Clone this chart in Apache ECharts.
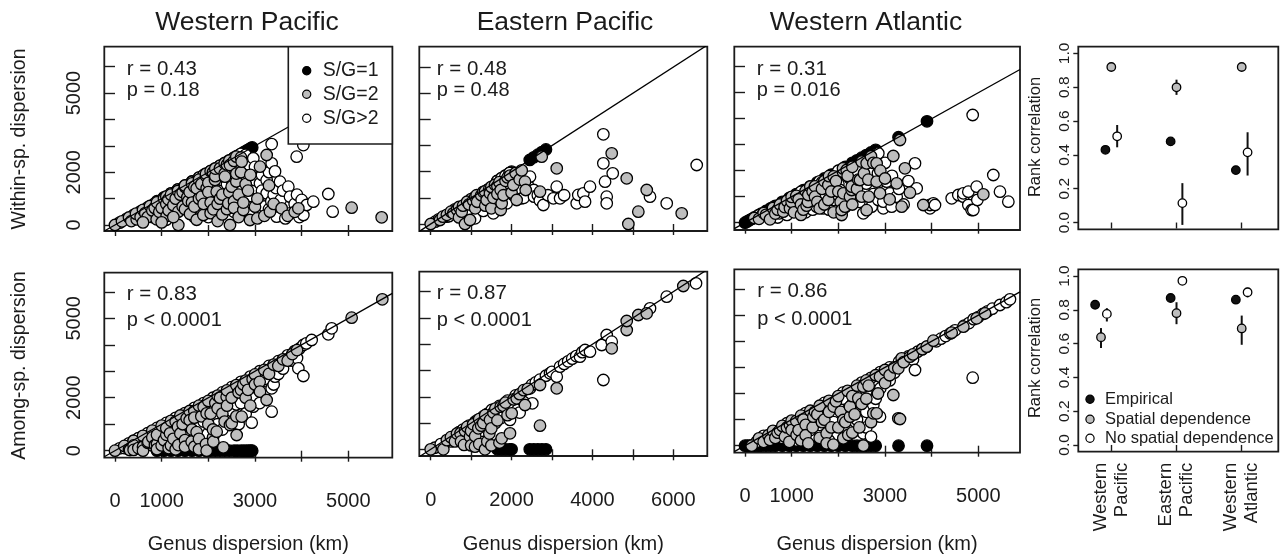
<!DOCTYPE html>
<html>
<head>
<meta charset="utf-8">
<script src="https://cdn.jsdelivr.net/npm/echarts@6/dist/echarts.min.js"></script>
<style>
html,body{margin:0;padding:0;background:#fff}
#chart{width:1287px;height:556px}
</style>
</head>
<body>
<div id="chart"></div>
<script>
// ---------- Regions ----------
const regionTitles = ['Western Pacific', 'Eastern Pacific', 'Western Atlantic'];
const rankCategories = ['Western\nPacific', 'Eastern\nPacific', 'Western\nAtlantic'];

// ---------- Axis ticks and labels ----------
const ticksKm5 = [0, 1000, 2000, 3000, 4000, 5000];
const ticksKm6 = [0, 1000, 2000, 3000, 4000, 5000, 6000];
const labelsKmOdd = [0, 1000, 3000, 5000];
const labelsKmEven = [0, 2000, 4000, 6000];
const labelsDispersion = [0, 2000, 5000];
const ticksRank = [0, 0.2, 0.4, 0.6, 0.8, 1.0];
const ticksRegion = [1, 2, 3];

// ---------- Western Pacific: [genus dispersion, within-species dispersion] ----------
const wpWithinSG1 = [[900,900],[1050,1050],[1200,1200],[1350,1350],[1500,1500],[1650,1650],[1800,1800],[1950,1950],[2050,2050],[2150,2150],[2250,2250],[2350,2350],[2450,2450],[2550,2550],[2620,2620],[2700,2700],[2760,2760],[2820,2820],[2870,2870],[2910,2910],[2940,2940]];
const wpWithinSG2 = [[0,0],[150,140],[300,285],[350,150],[465,215],[450,430],[550,300],[600,570],[650,450],[700,300],[750,720],[800,550],[850,650],[893,215],[900,860],[950,500],[1000,650],[1050,1000],[1100,800],[1100,1080],[1107,341],[1143,973],[1150,550],[1200,1150],[1250,750],[1300,1000],[1350,1290],[1357,505],[1357,0],[1400,1150],[1450,700],[1450,1250],[1500,1440],[1500,1490],[1500,600],[1550,1050],[1571,910],[1600,1250],[1607,417],[1650,1580],[1650,850],[1700,700],[1700,1450],[1750,1390],[1750,200],[1800,1720],[1800,1000],[1850,1550],[1857,1074],[1893,379],[1900,800],[1950,1860],[1950,1940],[1964,1390],[2000,1600],[2000,1250],[2050,850],[2050,450],[2050,2040],[2100,2000],[2107,594],[2143,1706],[2150,1850],[2150,2140],[2179,1264],[2200,150],[2200,800],[2250,2150],[2250,1000],[2300,400],[2300,1150],[2350,1950],[2350,2340],[2357,1832],[2400,2290],[2400,600],[2428,821],[2450,1250],[2450,2440],[2464,2274],[2464,0],[2500,1453],[2550,2430],[2550,900],[2550,650],[2600,1650],[2600,1950],[2600,2590],[2650,300],[2650,1150],[2700,2560],[2700,2000],[2714,2400],[2750,569],[2750,850],[2800,1550],[2850,1300],[2893,190],[2900,1900],[3000,695],[3050,1000],[3050,250],[3107,2211],[3200,350],[3250,2654],[3300,1500],[3321,505],[3400,800],[3571,632],[3700,350],[3850,500],[3929,632],[5071,657],[5714,291],[1000,100],[600,100],[1250,300]];
const wpWithinSG3 = [[100,90],[250,235],[400,380],[500,250],[550,520],[700,665],[800,300],[850,810],[900,400],[1000,950],[1000,300],[1100,200],[1150,1100],[1200,550],[1200,1190],[1300,1240],[1300,500],[1350,1345],[1400,950],[1450,1380],[1500,850],[1600,1520],[1600,650],[1650,1640],[1700,1050],[1700,300],[1750,1670],[1800,1300],[1800,1795],[1850,600],[1900,1810],[1900,1895],[2000,1150],[2000,300],[2050,1950],[2100,1000],[2150,1550],[2200,2100],[2250,1300],[2250,550],[2250,2245],[2300,1700],[2350,2240],[2350,700],[2400,1550],[2400,950],[2500,2380],[2500,1700],[2550,1950],[2550,500],[2550,2545],[2607,1011],[2650,2520],[2650,1600],[2679,1895],[2700,1300],[2700,2695],[2750,1700],[2800,2660],[2800,800],[2821,1074],[2850,2300],[2900,1100],[2950,500],[2964,2527],[3000,2200],[3000,1400],[3000,1700],[3100,800],[3107,1579],[3107,442],[3150,1900],[3150,1300],[3200,700],[3250,1200],[3250,1700],[3300,2000],[3300,600],[3350,900],[3357,3068],[3357,2338],[3400,1150],[3429,2033],[3450,1400],[3464,316],[3500,700],[3536,1643],[3550,950],[3600,1300],[3650,250],[3714,1453],[3750,1074],[3750,442],[3850,800],[3893,2590],[3900,1150],[3950,300],[4000,950],[4036,3030],[4036,379],[4107,758],[4250,884],[4571,1175],[4664,505]];

// ---------- Western Pacific: [genus dispersion, among-species dispersion] ----------
const wpAmongSG1 = [[900,0],[1050,0],[1200,0],[1350,0],[1500,0],[1650,0],[1800,0],[1950,0],[2050,0],[2150,0],[2250,0],[2350,0],[2450,0],[2550,0],[2620,0],[2700,0],[2760,0],[2820,0],[2870,0],[2910,0],[2940,0]];
const wpAmongSG2 = [[0,0],[200,180],[300,50],[321,26],[400,370],[400,200],[400,30],[500,100],[600,560],[600,150],[600,0],[700,300],[714,340],[800,760],[800,500],[857,214],[900,250],[900,600],[900,60],[1000,950],[1000,200],[1050,400],[1100,600],[1100,850],[1150,100],[1179,657],[1200,1130],[1200,200],[1250,450],[1300,1100],[1300,50],[1350,900],[1357,214],[1400,1330],[1400,650],[1450,1000],[1500,400],[1500,150],[1536,1223],[1600,1500],[1600,1150],[1643,340],[1650,800],[1700,1500],[1700,1250],[1700,150],[1750,700],[1800,1700],[1800,450],[1800,50],[1850,1300],[1900,1650],[1950,250],[1964,0],[1964,1412],[2000,1880],[2000,1000],[2050,1400],[2100,500],[2100,800],[2107,340],[2150,1800],[2179,718],[2200,2080],[2200,1600],[2250,2000],[2300,1400],[2321,128],[2350,1100],[2393,2039],[2400,2280],[2400,1700],[2464,970],[2500,1035],[2500,2000],[2600,2480],[2600,1300],[2607,593],[2650,2200],[2700,2300],[2714,1284],[2750,2500],[2800,2650],[2800,2000],[2850,2300],[2900,1700],[2950,2700],[3000,2880],[3000,2500],[3100,2600],[3107,2228],[3200,3050],[3250,1915],[3300,2900],[3400,3250],[3500,3200],[3600,3450],[3700,3400],[3800,3650],[3900,3800],[5071,5023],[5728,5717]];
const wpAmongSG3 = [[100,90],[200,100],[300,280],[400,380],[500,470],[600,450],[700,660],[700,400],[800,200],[900,860],[1000,700],[1000,500],[1100,1050],[1200,950],[1300,1240],[1300,800],[1400,1100],[1500,1420],[1500,700],[1600,900],[1700,1620],[1800,900],[1900,1800],[1900,1100],[2000,1600],[2100,2000],[2150,1300],[2200,1000],[2300,2200],[2300,800],[2400,1900],[2450,1400],[2500,2400],[2500,1500],[2600,1750],[2650,1000],[2700,2600],[2700,1800],[2800,2050],[2800,1400],[2900,2800],[2900,2400],[2929,1057],[2964,1662],[3000,2000],[3050,2350],[3100,3000],[3100,1800],[3200,2700],[3200,2200],[3300,3200],[3300,3000],[3357,2356],[3357,1473],[3400,2500],[3429,2795],[3500,3380],[3500,2900],[3600,3100],[3700,3600],[3800,3400],[3850,3760],[3900,3500],[3929,3111],[3950,3850],[4036,3991],[4036,2821],[4100,4050],[4214,4180],[4571,4396],[4643,4622]];

// ---------- Eastern Pacific: within-species ----------
const epWithinSG1 = [[1650,1650],[1750,1750],[1850,1850],[1950,1950],[2000,2000],[2450,2450],[2550,2550],[2650,2650],[2750,2750],[2850,2850]];
const epWithinSG2 = [[0,0],[230,153],[300,280],[400,350],[500,470],[560,408],[650,550],[700,650],[700,250],[767,470],[800,700],[848,0],[900,850],[950,750],[972,153],[1050,900],[1100,1040],[1100,600],[1137,1100],[1150,850],[1250,1100],[1300,1230],[1343,1250],[1350,700],[1384,918],[1450,1350],[1467,1173],[1500,1420],[1500,600],[1550,1000],[1590,1500],[1650,1450],[1650,1150],[1700,1600],[1731,1300],[1731,535],[1756,791],[1800,1100],[1850,1650],[1900,1780],[1961,1850],[2000,1200],[2044,1491],[2100,1950],[2126,918],[2200,1700],[2250,2050],[2332,1618],[2350,1300],[2703,1235],[2745,2574],[3117,2130],[4477,2704],[4848,1747],[4888,0],[5135,470],[5343,1300],[6208,408]];
const epWithinSG3 = [[112,89],[200,180],[396,279],[450,300],[600,560],[750,600],[850,500],[890,800],[1000,950],[1000,400],[1050,700],[1096,217],[1200,1100],[1250,800],[1300,500],[1400,1300],[1450,1000],[1549,408],[1600,1450],[1600,1200],[1650,1645],[1750,1550],[1750,1745],[1800,900],[1850,1845],[1880,790],[1950,1450],[1950,1945],[2050,1100],[2150,1350],[2200,1900],[2251,981],[2300,1000],[2400,1500],[2456,1810],[2550,1300],[2555,1044],[2650,1100],[2700,900],[2786,727],[2900,1100],[3035,981],[3117,1427],[3200,981],[3300,1100],[3611,790],[3650,1110],[3775,1173],[3817,855],[3940,1427],[4270,3430],[4270,2321],[4312,1618],[4353,1044],[4353,790],[4502,1939],[5424,1044],[5837,790],[6579,2256]];

// ---------- Eastern Pacific: among-species ----------
const epAmongSG1 = [[1650,0],[1750,0],[1850,0],[1950,0],[2000,0],[2450,0],[2550,0],[2650,0],[2750,0],[2850,0]];
const epAmongSG2 = [[0,0],[312,0],[400,350],[500,460],[600,300],[650,600],[737,609],[750,300],[824,165],[850,700],[900,850],[972,482],[1000,700],[1000,150],[1050,950],[1096,100],[1100,500],[1178,799],[1200,1150],[1200,200],[1250,900],[1300,1000],[1343,0],[1350,1300],[1400,300],[1450,600],[1467,1117],[1500,800],[1500,150],[1550,1400],[1600,1550],[1650,1100],[1700,250],[1731,1622],[1756,419],[1800,1650],[1850,1780],[1900,1300],[1961,609],[2003,1370],[2050,1900],[2127,1941],[2200,2100],[2300,2250],[2332,1686],[2400,2300],[2703,2448],[2703,898],[3117,2322],[4477,3845],[4848,4541],[4848,4884],[5135,5112],[5342,5177],[6248,6216]];
const epAmongSG3 = [[100,60],[250,200],[500,300],[560,355],[700,650],[800,750],[950,900],[950,600],[1100,1050],[1150,1100],[1250,700],[1300,1250],[1400,1350],[1508,1496],[1600,1000],[1700,1650],[1750,1200],[1900,1850],[1961,1117],[2000,1700],[2100,2050],[2150,1500],[2200,1400],[2300,1800],[2456,2322],[2500,2450],[2514,1751],[2600,2550],[2700,2650],[2850,2800],[2951,2893],[3000,2950],[3117,2764],[3198,3144],[3300,3250],[3400,3350],[3500,3450],[3600,3550],[3693,3525],[3750,3700],[3817,3780],[3940,3715],[4230,3970],[4270,2638],[4353,4351],[4477,4096],[5424,5367],[5837,5809],[6562,6319]];

// ---------- Western Atlantic: within-species ----------
const waWithinSG1 = [[0,0],[50,50],[100,100],[150,150],[200,200],[280,280],[350,350],[450,450],[550,550],[650,650],[800,800],[950,950],[1100,1100],[1250,1250],[1400,1400],[1550,1550],[1700,1700],[1850,1850],[2000,2000],[2150,2150],[2300,2300],[2400,2400],[2500,2500],[2600,2600],[2700,2700],[2800,2800],[3290,3290],[3900,3900]];
const waWithinSG2 = [[200,180],[300,150],[400,370],[450,300],[536,131],[600,560],[650,350],[700,500],[750,700],[821,423],[850,600],[900,840],[964,554],[1000,800],[1000,990],[1050,400],[1100,1030],[1150,900],[1200,700],[1200,300],[1250,500],[1300,1220],[1321,654],[1350,800],[1357,1065],[1400,1390],[1450,1200],[1500,1400],[1500,1000],[1550,800],[1600,550],[1650,1300],[1700,1600],[1700,700],[1786,873],[1786,1450],[1800,1790],[1850,1200],[1900,1780],[1900,400],[1950,1600],[2000,1200],[2050,800],[2071,296],[2071,488],[2100,1950],[2100,2090],[2107,1131],[2143,615],[2179,2027],[2200,1800],[2250,1000],[2286,1258],[2286,1385],[2300,2150],[2300,700],[2400,1300],[2428,1654],[2464,1642],[2500,2350],[2500,1000],[2550,1900],[2607,2285],[2607,480],[2643,1654],[2650,1000],[2700,2550],[2750,2300],[2821,1577],[2821,2285],[2893,1131],[2900,2000],[3000,1700],[3100,900],[3178,2565],[3250,1515],[3321,3181],[3357,615],[3428,2092],[3535,1154],[3821,681],[5107,1092]];
const waWithinSG3 = [[300,280],[350,250],[500,423],[550,450],[600,590],[700,200],[736,361],[800,760],[900,300],[1000,950],[1050,700],[1100,500],[1200,1000],[1200,1190],[1286,746],[1300,400],[1400,1330],[1450,500],[1536,615],[1600,1000],[1600,1590],[1650,1550],[1678,554],[1700,1100],[1800,1700],[1800,500],[1893,873],[1950,1100],[2000,1500],[2000,1990],[2036,1258],[2150,600],[2200,2080],[2200,900],[2250,1700],[2350,1100],[2400,2000],[2450,800],[2536,361],[2600,1500],[2700,2000],[2714,615],[2750,1100],[2850,1900],[2857,873],[2857,2669],[2964,554],[2964,808],[3000,2300],[3036,1258],[3036,1577],[3107,1131],[3143,615],[3150,1800],[3250,1000],[3300,1300],[3400,700],[3500,1600],[3643,2285],[3679,1323],[3964,554],[3964,681],[4036,746],[4071,681],[4429,938],[4571,1065],[4679,1000],[4679,1131],[4786,681],[4786,1192],[4857,488],[4879,4142],[4893,488],[4964,1385],[4979,873],[5321,1835],[5464,1192],[5643,808]];

// ---------- Western Atlantic: among-species ----------
const waAmongSG1 = [[0,0],[50,0],[100,0],[150,0],[200,0],[280,0],[350,0],[450,0],[550,0],[650,0],[800,0],[950,0],[1100,0],[1250,0],[1400,0],[1550,0],[1700,0],[1850,0],[2000,0],[2150,0],[2300,0],[2400,0],[2500,0],[2600,0],[2700,0],[2800,0],[3290,0],[3900,0]];
const waAmongSG2 = [[143,0],[300,280],[400,150],[500,400],[536,218],[600,570],[650,300],[700,500],[750,600],[800,760],[857,345],[900,700],[950,150],[964,793],[1000,960],[1000,600],[1100,950],[1107,410],[1150,600],[1200,1150],[1200,200],[1250,1000],[1300,800],[1300,400],[1357,92],[1400,1340],[1450,700],[1464,1111],[1500,1300],[1550,1200],[1600,1530],[1600,300],[1650,900],[1700,1000],[1750,475],[1750,92],[1800,1720],[1800,1300],[1850,700],[1893,45],[1900,1500],[1950,1700],[2000,1900],[2000,700],[2050,1300],[2107,283],[2107,985],[2150,900],[2200,2100],[2214,410],[2250,1111],[2250,1494],[2300,500],[2300,1900],[2350,1200],[2400,2300],[2428,1816],[2450,700],[2500,1600],[2536,2261],[2536,0],[2600,2500],[2600,1800],[2650,2300],[2700,900],[2750,1241],[2800,2700],[2821,1241],[2850,2000],[2893,2644],[3000,2900],[3000,2400],[3100,2700],[3178,1943],[3200,3000],[3285,1050],[3286,2965],[3321,1023],[3357,3349],[3400,3200],[3536,3410],[3600,3500],[3800,3700],[3893,3793],[4036,4023],[4429,4330],[4679,4559],[4964,4881],[5143,5073]];
const waAmongSG3 = [[250,150],[400,380],[600,450],[800,300],[900,860],[1000,850],[1100,200],[1300,1250],[1300,1100],[1400,600],[1500,1000],[1600,800],[1700,1640],[1700,1400],[1800,200],[1900,1200],[1900,900],[2000,1600],[2100,2030],[2100,1800],[2200,600],[2200,1300],[2300,1600],[2400,1000],[2450,2000],[2500,2420],[2500,536],[2536,475],[2600,1300],[2600,700],[2600,2100],[2700,2600],[2700,350],[2750,1560],[2800,1800],[2893,1113],[2900,2820],[2900,2200],[3000,2700],[3100,3000],[3100,2500],[3200,2800],[3300,3220],[3400,3300],[3500,3420],[3600,3300],[3643,2900],[3700,3600],[3800,3700],[3900,3800],[4100,4000],[4200,4100],[4300,4200],[4400,4300],[4500,4420],[4700,4600],[4800,4700],[4879,2605],[4900,4850],[5000,4930],[5100,5050],[5200,5150],[5300,5250],[5464,5391],[5600,5500],[5678,5609]];

// ---------- Rank correlations (within-species panel) ----------
const withinEmpirical = [0.43, 0.48, 0.31];
const withinSpatial = [0.92, 0.80, 0.92];
const withinSpatialLo = [0.91, 0.755, 0.91];
const withinSpatialHi = [0.93, 0.845, 0.93];
const withinNoSpatial = [0.51, 0.115, 0.415];
const withinNoSpatialLo = [0.445, -0.014, 0.278];
const withinNoSpatialHi = [0.577, 0.233, 0.534];

// ---------- Rank correlations (among-species panel) ----------
const amongEmpirical = [0.83, 0.87, 0.86];
const amongSpatial = [0.638, 0.78, 0.69];
const amongSpatialLo = [0.574, 0.715, 0.593];
const amongSpatialHi = [0.692, 0.845, 0.766];
const amongNoSpatial = [0.776, 0.972, 0.904];
const amongNoSpatialLo = [0.731, 0.962, 0.874];
const amongNoSpatialHi = [0.81, 0.982, 0.931];

// ---------- Correlation annotations ----------
const withinStats = [['r = 0.43', 'p = 0.18'], ['r = 0.48', 'p = 0.48'], ['r = 0.31', 'p = 0.016']];
const amongStats = [['r = 0.83', 'p < 0.0001'], ['r = 0.87', 'p < 0.0001'], ['r = 0.86', 'p < 0.0001']];

// ---------- Styling ----------
const FONT = '"Liberation Sans", Arial, Helvetica, sans-serif';
const INK = '#1b1b1b';
const GREY = '#bebebe';
const PT = 11.5;     // scatter symbol size
const RANK_PT = 8.5; // rank-panel symbol size

// ---------- Layout of the eight panels ----------
const scatterPanels = [
  { grid: {left: 104.3, top: 46.7, width: 288, height: 184.3}, x: [-229, 5942], y: [-227, 6759], xt: ticksKm5, xl: null, yl: labelsDispersion,
    sets: [wpWithinSG1, wpWithinSG3, wpWithinSG2], stats: withinStats[0], statPos: [126.7, 69, 90.7] },
  { grid: {left: 419.3, top: 46.7, width: 288, height: 184.3}, x: [-282, 6841], y: [-268, 6780], xt: ticksKm6, xl: null, yl: null,
    sets: [epWithinSG1, epWithinSG3, epWithinSG2], stats: withinStats[1], statPos: [436.7, 69, 90.7] },
  { grid: {left: 734.3, top: 46.7, width: 285.7, height: 183.3}, x: [-229, 5893], y: [-281, 6769], xt: ticksKm5, xl: null, yl: null,
    sets: [waWithinSG1, waWithinSG3, waWithinSG2], stats: withinStats[2], statPos: [756.7, 69, 90.7] },
  { grid: {left: 104.3, top: 272.7, width: 288, height: 185}, x: [-229, 5942], y: [-264, 6722], xt: ticksKm5, xl: labelsKmOdd, yl: labelsDispersion,
    sets: [wpAmongSG1, wpAmongSG3, wpAmongSG2], stats: amongStats[0], statPos: [126.7, 294.7, 320] },
  { grid: {left: 419.3, top: 271.7, width: 288, height: 184.3}, x: [-282, 6841], y: [-255, 6761], xt: ticksKm6, xl: labelsKmEven, yl: null,
    sets: [epAmongSG1, epAmongSG3, epAmongSG2], stats: amongStats[1], statPos: [436.7, 293.3, 320] },
  { grid: {left: 734.3, top: 269.3, width: 285.7, height: 183.4}, x: [-229, 5893], y: [-268, 6759], xt: ticksKm5, xl: labelsKmOdd, yl: null,
    sets: [waAmongSG1, waAmongSG3, waAmongSG2], stats: amongStats[2], statPos: [757.3, 291.7, 319] }
];
const rankPanels = [
  { grid: {left: 1078.3, top: 46.7, width: 200, height: 182.6}, centers: [1, 2, 3], showCats: false,
    emp: withinEmpirical, sp: withinSpatial, spLo: withinSpatialLo, spHi: withinSpatialHi,
    ns: withinNoSpatial, nsLo: withinNoSpatialLo, nsHi: withinNoSpatialHi },
  { grid: {left: 1078.3, top: 269.3, width: 200, height: 182.4}, centers: [0.842, 2, 3], showCats: true,
    emp: amongEmpirical, sp: amongSpatial, spLo: amongSpatialLo, spHi: amongSpatialHi,
    ns: amongNoSpatial, nsLo: amongNoSpatialLo, nsHi: amongNoSpatialHi }
];
const DODGE = 0.09;

const grids = [], xAxes = [], yAxes = [], series = [];
const tickStyle = {color: INK, width: 1.4};

scatterPanels.forEach((p, i) => {
  grids.push(Object.assign({show: true, borderColor: INK, borderWidth: 1.8, backgroundColor: 'transparent'}, p.grid));
  xAxes.push({
    type: 'value', gridIndex: i, min: p.x[0], max: p.x[1], position: 'bottom', offset: 1,
    axisLine: {show: false}, splitLine: {show: false},
    axisTick: {show: true, customValues: p.xt, length: 11, lineStyle: tickStyle},
    axisLabel: {show: !!p.xl, customValues: p.xl || [], margin: 33, fontSize: 20, color: INK, fontFamily: FONT,
      formatter: v => String(v)}
  });
  yAxes.push({
    type: 'value', gridIndex: i, min: p.y[0], max: p.y[1], position: 'left', offset: 1,
    axisLine: {show: false}, splitLine: {show: false},
    axisTick: {show: true, customValues: ticksKm6, length: 11, lineStyle: tickStyle},
    axisLabel: {show: !!p.yl, customValues: p.yl || [], rotate: 90, margin: 19, fontSize: 20, color: INK, fontFamily: FONT,
      formatter: v => String(v)}
  });
  const fills = ['#000000', '#ffffff', GREY];
  p.sets.forEach((d, k) => {
    series.push({
      type: 'scatter', xAxisIndex: i, yAxisIndex: i, data: d, symbol: 'circle', symbolSize: PT, silent: true,
      itemStyle: {color: fills[k], borderColor: '#000', borderWidth: 1.3, opacity: 1}, z: 2 + k
    });
  });
  // 1:1 reference line across the panel
  series.push({
    type: 'line', xAxisIndex: i, yAxisIndex: i, symbol: 'none', silent: true, clip: true, z: 8,
    data: [[p.x[0], p.x[0]], [p.x[1], p.x[1]]],
    lineStyle: {color: '#000', width: 1.3}
  });
});

rankPanels.forEach((p, j) => {
  const i = scatterPanels.length + j;
  grids.push(Object.assign({show: true, borderColor: INK, borderWidth: 1.8, backgroundColor: 'transparent'}, p.grid));
  xAxes.push({
    type: 'value', gridIndex: i, min: 0.494, max: 3.561, position: 'bottom',
    axisLine: {show: false}, splitLine: {show: false},
    axisTick: {show: true, customValues: ticksRegion, length: 6, lineStyle: tickStyle},
    axisLabel: {show: p.showCats, customValues: ticksRegion, rotate: 90, margin: 11, fontSize: 18.5, lineHeight: 21,
      color: INK, fontFamily: FONT, formatter: v => rankCategories[Math.round(v) - 1] || ''}
  });
  yAxes.push({
    type: 'value', gridIndex: i, min: -0.04, max: 1.04, position: 'left',
    axisLine: {show: false}, splitLine: {show: false},
    axisTick: {show: true, customValues: ticksRank, length: 5, lineStyle: tickStyle},
    axisLabel: {show: true, customValues: ticksRank, rotate: 90, margin: 6, fontSize: 15.5, color: INK, fontFamily: FONT,
      formatter: v => v.toFixed(1)}
  });
  const errRows = [];
  p.centers.forEach((c, g) => {
    errRows.push([c, p.spLo[g], p.spHi[g]]);
    errRows.push([c + DODGE, p.nsLo[g], p.nsHi[g]]);
  });
  series.push({
    type: 'custom', xAxisIndex: i, yAxisIndex: i, silent: true, z: 2, data: errRows,
    renderItem: (params, api) => {
      const a = api.coord([api.value(0), api.value(1)]);
      const b = api.coord([api.value(0), api.value(2)]);
      return {type: 'line', shape: {x1: a[0], y1: a[1], x2: b[0], y2: b[1]}, style: {stroke: '#111', lineWidth: 2}};
    }
  });
  const groups = [[p.emp, -DODGE, '#111111'], [p.sp, 0, GREY], [p.ns, DODGE, '#ffffff']];
  groups.forEach(([vals, dx, col], k) => {
    series.push({
      type: 'scatter', xAxisIndex: i, yAxisIndex: i, symbol: 'circle', symbolSize: RANK_PT, silent: true, z: 4 + k,
      data: vals.map((v, g) => [p.centers[g] + dx, v]),
      itemStyle: {color: col, borderColor: '#000', borderWidth: 1.3, opacity: 1}
    });
  });
});

// ---------- Text and keys ----------
function text(x, y, s, size, align, rotation) {
  return {type: 'text', x: x, y: y, z: 100, rotation: rotation || 0, silent: true,
    style: {text: s, fill: INK, font: size + 'px ' + FONT, align: align || 'center', verticalAlign: 'middle'}};
}
function dot(x, y, fill) {
  return {type: 'circle', shape: {cx: x, cy: y, r: 4.1}, z: 101, silent: true,
    style: {fill: fill, stroke: '#000', lineWidth: 1.2}};
}
const gfx = [];
const titleX = [247, 565, 866];
regionTitles.forEach((t, k) => gfx.push(text(titleX[k], 22.5, t, 26.5)));
[248.3, 563.3, 877].forEach(x => gfx.push(text(x, 544, 'Genus dispersion (km)', 20)));
gfx.push(text(20, 139, 'Within-sp. dispersion', 19.5, 'center', Math.PI / 2));
gfx.push(text(20, 365.5, 'Among-sp. dispersion', 19.5, 'center', Math.PI / 2));
gfx.push(text(1035, 137, 'Rank correlation', 16.5, 'center', Math.PI / 2));
gfx.push(text(1035, 358, 'Rank correlation', 16.5, 'center', Math.PI / 2));
scatterPanels.forEach(p => {
  gfx.push(text(p.statPos[0], p.statPos[1], p.stats[0], 20.5, 'left'));
  gfx.push(text(p.statPos[0], p.statPos[2], p.stats[1], 20, 'left'));
});
// key for the species-per-genus classes
gfx.push({type: 'rect', shape: {x: 288.3, y: 46.7, width: 104, height: 97.3}, z: 99, silent: true,
  style: {fill: '#fff', stroke: INK, lineWidth: 1.6}});
[['S/G=1', '#000000', 70.7], ['S/G=2', GREY, 94.3], ['S/G>2', '#ffffff', 118.3]].forEach(([s, c, y]) => {
  gfx.push(dot(306.7, y, c));
  gfx.push(text(322.7, y, s, 19.5, 'left'));
});
// key for the rank-correlation panel
[['Empirical', '#111111', 399.3], ['Spatial dependence', GREY, 419.3], ['No spatial dependence', '#ffffff', 438.3]].forEach(([s, c, y]) => {
  gfx.push(dot(1090, y, c));
  gfx.push(text(1105, y, s, 16.5, 'left'));
});

const chart = echarts.init(document.getElementById('chart'), null, {renderer: 'canvas'});
chart.setOption({
  animation: false,
  backgroundColor: '#ffffff',
  grid: grids,
  xAxis: xAxes,
  yAxis: yAxes,
  series: series,
  graphic: {elements: gfx}
});
</script>
</body>
</html>
